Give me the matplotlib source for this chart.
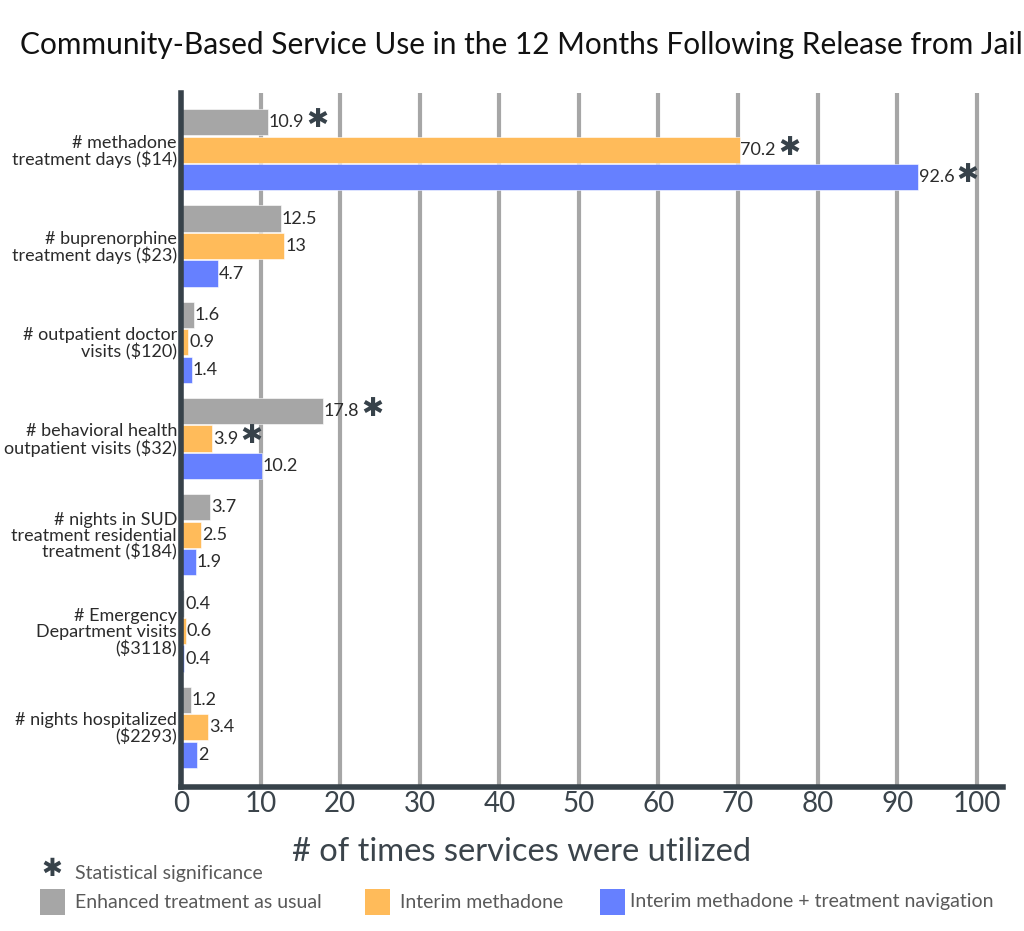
import matplotlib
matplotlib.use("Agg")
import matplotlib.pyplot as plt
from matplotlib.patches import Rectangle
import numpy as np

plt.rcParams['font.family'] = ['Lato', 'DejaVu Sans']

categories = [
    "# methadone\ntreatment days ($14)",
    "# buprenorphine\ntreatment days ($23)",
    "# outpatient doctor\nvisits ($120)",
    "# behavioral health\noutpatient visits ($32)",
    "# nights in SUD\ntreatment residential\ntreatment ($184)",
    "# Emergency\nDepartment visits\n($3118)",
    "# nights hospitalized\n($2293)",
]
series_names = ["Enhanced treatment as usual", "Interim methadone",
                "Interim methadone + treatment navigation"]
etau = [10.9, 12.5, 1.6, 17.8, 3.7, 0.4, 1.2]
interim = [70.2, 13, 0.9, 3.9, 2.5, 0.6, 3.4]
interim_nav = [92.6, 4.7, 1.4, 10.2, 1.9, 0.4, 2]
sig_etau = [True, False, False, True, False, False, False]
sig_interim = [True, False, False, True, False, False, False]
sig_interim_nav = [True, False, False, False, False, False, False]
xticks = [0, 10, 20, 30, 40, 50, 60, 70, 80, 90, 100]

colors = ["#a6a6a6", "#ffbb5a", "#6680ff"]
dark = "#37424a"

fig = plt.figure(figsize=(10.24, 9.31), dpi=100)
ax = fig.add_axes([0.1768, 0.1547, 0.9795 - 0.1768, 0.9001 - 0.1547])

y = np.arange(len(categories))
offsets = [-0.286, 0.0, 0.286]
bar_h = 0.272
all_series = [etau, interim, interim_nav]
all_sig = [sig_etau, sig_interim, sig_interim_nav]

for k, (vals, sigs) in enumerate(zip(all_series, all_sig)):
    ax.barh(y + offsets[k], vals, height=bar_h, color=colors[k],
            edgecolor='white', linewidth=0.4, zorder=3)
    for yi, v, s in zip(y + offsets[k], vals, sigs):
        t = ax.text(v + 0.1, yi, f"{v:g}", va='center', ha='left',
                    fontsize=13, color='#2b2b2b', zorder=4)
        if s:
            ax.annotate("\u2731", xy=(1, 0.5), xycoords=t, xytext=(1.5, 1.5),
                        textcoords='offset points', va='center', ha='left',
                        fontsize=19, color=dark, family='DejaVu Sans', zorder=4)

ax.set_xlim(0, 103.3)
ax.set_ylim(6.62, -0.59)
ax.set_xticks(xticks)
ax.set_yticks(y)
ax.set_yticklabels(categories, fontsize=13, color='#2b2b2b', linespacing=1.0)
ax.tick_params(axis='y', length=0, pad=3)
ax.tick_params(axis='x', length=0, pad=3, labelsize=20, labelcolor='#3b444b')

for xv in xticks[1:]:
    ax.axvline(xv, color='#a6a6a6', linewidth=3, zorder=1)

for side in ['top', 'right']:
    ax.spines[side].set_visible(False)
for side in ['left', 'bottom']:
    ax.spines[side].set_color(dark)
    ax.spines[side].set_linewidth(4)
    ax.spines[side].set_zorder(5)

fig.text(0.509, 0.952, "Community-Based Service Use in the 12 Months Following Release from Jail",
         ha='center', va='center', fontsize=21.5, color='#111111')
fig.text(0.509, 0.085, "# of times services were utilized", ha='center', va='center',
         fontsize=23.5, color='#3b444b')

# legend
legend_gray = '#595959'
fig.text(52 / 1024, 1 - 869 / 931, "\u2731", ha='center', va='center', fontsize=18,
         color=dark, family='DejaVu Sans')
fig.text(75 / 1024, 1 - 873 / 931, "Statistical significance", ha='left', va='center',
         fontsize=14, color=legend_gray)
sq_x = [40, 365, 600]
txt_x = [75, 400, 630]
for k in range(3):
    fig.patches.append(Rectangle((sq_x[k] / 1024, 1 - 915 / 931), 25 / 1024, 26 / 931,
                                 transform=fig.transFigure, facecolor=colors[k],
                                 edgecolor='none'))
    fig.text(txt_x[k] / 1024, 1 - 902 / 931, series_names[k], ha='left', va='center',
             fontsize=14, color=legend_gray)

fig.savefig("out.png", dpi=100)
